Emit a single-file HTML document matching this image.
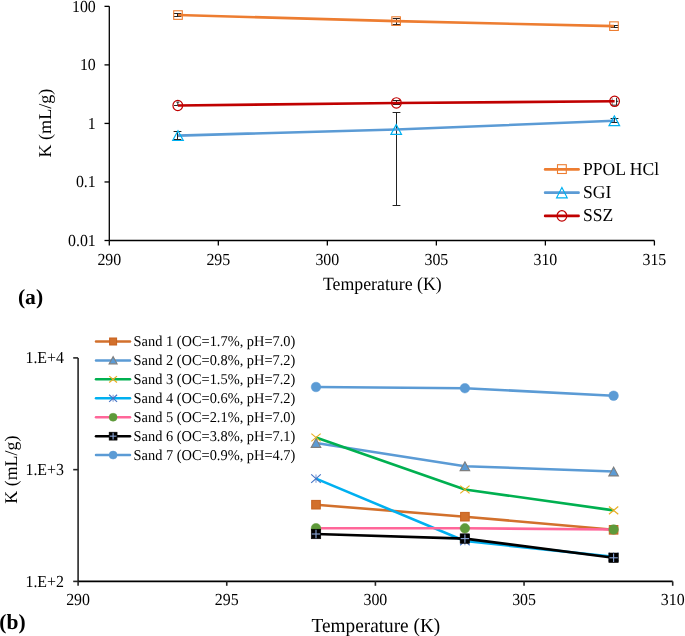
<!DOCTYPE html>
<html><head><meta charset="utf-8"><style>
html,body{margin:0;padding:0;background:#fff;}
body{width:685px;height:636px;overflow:hidden;}
svg{display:block;font-family:"Liberation Serif", serif;will-change:transform;text-rendering:geometricPrecision;}
text{fill:#000;}
</style></head><body>
<svg width="685" height="636" viewBox="0 0 685 636">
<line x1="109.3" y1="6.35" x2="109.3" y2="240.5" stroke="#000" stroke-width="1.3" />
<line x1="109.3" y1="240.5" x2="654.4" y2="240.5" stroke="#000" stroke-width="1.3" />
<line x1="104.5" y1="6.35" x2="109.3" y2="6.35" stroke="#000" stroke-width="1.3" />
<text transform="translate(95.8,11.8) scale(1,1.06)" font-size="15.9" text-anchor="end" font-weight="normal">100</text>
<line x1="104.5" y1="64.8875" x2="109.3" y2="64.8875" stroke="#000" stroke-width="1.3" />
<text transform="translate(95.8,70.3375) scale(1,1.06)" font-size="15.9" text-anchor="end" font-weight="normal">10</text>
<line x1="104.5" y1="123.425" x2="109.3" y2="123.425" stroke="#000" stroke-width="1.3" />
<text transform="translate(95.8,128.875) scale(1,1.06)" font-size="15.9" text-anchor="end" font-weight="normal">1</text>
<line x1="104.5" y1="181.9625" x2="109.3" y2="181.9625" stroke="#000" stroke-width="1.3" />
<text transform="translate(95.8,187.4125) scale(1,1.06)" font-size="15.9" text-anchor="end" font-weight="normal">0.1</text>
<line x1="104.5" y1="240.5" x2="109.3" y2="240.5" stroke="#000" stroke-width="1.3" />
<text transform="translate(95.8,245.95) scale(1,1.06)" font-size="15.9" text-anchor="end" font-weight="normal">0.01</text>
<line x1="109.3" y1="240.5" x2="109.3" y2="245.5" stroke="#000" stroke-width="1.3" />
<text transform="translate(109.3,264.8) scale(1,1.06)" font-size="15.9" text-anchor="middle" font-weight="normal">290</text>
<line x1="218.32" y1="240.5" x2="218.32" y2="245.5" stroke="#000" stroke-width="1.3" />
<text transform="translate(218.32,264.8) scale(1,1.06)" font-size="15.9" text-anchor="middle" font-weight="normal">295</text>
<line x1="327.34000000000003" y1="240.5" x2="327.34000000000003" y2="245.5" stroke="#000" stroke-width="1.3" />
<text transform="translate(327.34000000000003,264.8) scale(1,1.06)" font-size="15.9" text-anchor="middle" font-weight="normal">300</text>
<line x1="436.36000000000007" y1="240.5" x2="436.36000000000007" y2="245.5" stroke="#000" stroke-width="1.3" />
<text transform="translate(436.36000000000007,264.8) scale(1,1.06)" font-size="15.9" text-anchor="middle" font-weight="normal">305</text>
<line x1="545.38" y1="240.5" x2="545.38" y2="245.5" stroke="#000" stroke-width="1.3" />
<text transform="translate(545.38,264.8) scale(1,1.06)" font-size="15.9" text-anchor="middle" font-weight="normal">310</text>
<line x1="654.4" y1="240.5" x2="654.4" y2="245.5" stroke="#000" stroke-width="1.3" />
<text transform="translate(654.4,264.8) scale(1,1.06)" font-size="15.9" text-anchor="middle" font-weight="normal">315</text>
<text transform="translate(382.3,290) scale(1,1.05)" font-size="17.8" text-anchor="middle" font-weight="normal">Temperature (K)</text>
<text x="0" y="0" font-size="18.1" text-anchor="middle" font-weight="normal" transform="translate(50.7,123.1) rotate(-90)">K (mL/g)</text>
<text transform="translate(17.9,303.5) scale(1,1.0)" font-size="21.6" text-anchor="start" font-weight="bold">(a)</text>
<line x1="177.5" y1="13.5" x2="177.5" y2="16.5" stroke="#222" stroke-width="1" />
<line x1="173.6" y1="13.5" x2="181.4" y2="13.5" stroke="#222" stroke-width="1" />
<line x1="173.6" y1="16.5" x2="181.4" y2="16.5" stroke="#222" stroke-width="1" />
<line x1="396.5" y1="18.5" x2="396.5" y2="24.5" stroke="#222" stroke-width="1" />
<line x1="392.6" y1="18.5" x2="400.4" y2="18.5" stroke="#222" stroke-width="1" />
<line x1="392.6" y1="24.5" x2="400.4" y2="24.5" stroke="#222" stroke-width="1" />
<line x1="614.5" y1="25.5" x2="614.5" y2="27.5" stroke="#222" stroke-width="1" />
<line x1="610.6" y1="25.5" x2="618.4" y2="25.5" stroke="#222" stroke-width="1" />
<line x1="610.6" y1="27.5" x2="618.4" y2="27.5" stroke="#222" stroke-width="1" />
<line x1="177.5" y1="131.5" x2="177.5" y2="139.5" stroke="#222" stroke-width="1" />
<line x1="173.6" y1="131.5" x2="181.4" y2="131.5" stroke="#222" stroke-width="1" />
<line x1="173.6" y1="139.5" x2="181.4" y2="139.5" stroke="#222" stroke-width="1" />
<line x1="396.5" y1="112.5" x2="396.5" y2="205.5" stroke="#222" stroke-width="1" />
<line x1="392.6" y1="112.5" x2="400.4" y2="112.5" stroke="#222" stroke-width="1" />
<line x1="392.6" y1="205.5" x2="400.4" y2="205.5" stroke="#222" stroke-width="1" />
<line x1="614.5" y1="118.5" x2="614.5" y2="122.5" stroke="#222" stroke-width="1" />
<line x1="610.6" y1="118.5" x2="618.4" y2="118.5" stroke="#222" stroke-width="1" />
<line x1="610.6" y1="122.5" x2="618.4" y2="122.5" stroke="#222" stroke-width="1" />
<line x1="177.8" y1="102.1" x2="177.8" y2="105.5" stroke="#222" stroke-width="1" />
<line x1="176.3" y1="102.1" x2="179.3" y2="102.1" stroke="#222" stroke-width="1" />
<line x1="173.9" y1="105.5" x2="177.8" y2="105.5" stroke="#222" stroke-width="1" />
<line x1="396.5" y1="100.5" x2="396.5" y2="104.5" stroke="#222" stroke-width="1" />
<line x1="392.6" y1="100.5" x2="400.4" y2="100.5" stroke="#222" stroke-width="1" />
<line x1="392.6" y1="104.5" x2="400.4" y2="104.5" stroke="#222" stroke-width="1" />
<line x1="616.6" y1="97.8" x2="616.6" y2="105.3" stroke="#222" stroke-width="1" />
<line x1="616.6" y1="97.8" x2="616.6" y2="97.8" stroke="#222" stroke-width="1" />
<line x1="616.6" y1="105.3" x2="616.6" y2="105.3" stroke="#222" stroke-width="1" />
<line x1="612.2" y1="98.3" x2="612.2" y2="105" stroke="#777" stroke-width="1" />
<line x1="611" y1="105.2" x2="617" y2="105.2" stroke="#222" stroke-width="1" />
<line x1="616" y1="101.3" x2="618.3" y2="101.3" stroke="#222" stroke-width="1" />
<polyline points="178,15.05 396.1,21.1 614,26.15" fill="none" stroke="#ED7D31" stroke-width="2.6" stroke-linejoin="round" stroke-linecap="butt"/>
<polyline points="178,135.6 396.2,129.5 614.3,120.8" fill="none" stroke="#5B9BD5" stroke-width="2.6" stroke-linejoin="round" stroke-linecap="butt"/>
<polyline points="177.8,105.5 396.4,102.95 614.6,101.3" fill="none" stroke="#C00000" stroke-width="2.6" stroke-linejoin="round" stroke-linecap="butt"/>
<rect x="173.7" y="10.75" width="8.6" height="8.6" fill="none" stroke="#ED7D31" stroke-width="1.1"/>
<rect x="391.8" y="16.8" width="8.6" height="8.6" fill="none" stroke="#ED7D31" stroke-width="1.1"/>
<rect x="609.7" y="21.849999999999998" width="8.6" height="8.6" fill="none" stroke="#ED7D31" stroke-width="1.1"/>
<polygon points="178,130.7 183.3,140.5 172.7,140.5" fill="none" stroke="#00B0F0" stroke-width="1.2" stroke-linejoin="miter"/>
<polygon points="396.2,124.6 401.5,134.4 390.9,134.4" fill="none" stroke="#00B0F0" stroke-width="1.2" stroke-linejoin="miter"/>
<polygon points="614.3,115.89999999999999 619.5999999999999,125.7 609.0,125.7" fill="none" stroke="#00B0F0" stroke-width="1.2" stroke-linejoin="miter"/>
<ellipse cx="177.8" cy="105.5" rx="4.85" ry="5.2" fill="none" stroke="#C00000" stroke-width="1.2"/>
<ellipse cx="396.4" cy="102.95" rx="4.85" ry="5.2" fill="none" stroke="#C00000" stroke-width="1.2"/>
<ellipse cx="614.6" cy="101.3" rx="4.85" ry="5.2" fill="none" stroke="#C00000" stroke-width="1.2"/>
<line x1="545.1" y1="169.4" x2="578.6" y2="169.4" stroke="#ED7D31" stroke-width="2.6" stroke-linecap="round"/>
<rect x="557.5" y="164.7" width="8.8" height="8.8" fill="none" stroke="#ED7D31" stroke-width="1.1"/>
<text transform="translate(583.0,174.9) scale(1,1.04)" font-size="17.6" text-anchor="start" font-weight="normal">PPOL HCl</text>
<line x1="545.1" y1="192.65" x2="578.6" y2="192.65" stroke="#5B9BD5" stroke-width="2.6" stroke-linecap="round"/>
<polygon points="561.9,187.45000000000002 567.1999999999999,197.85 556.6,197.85" fill="none" stroke="#00B0F0" stroke-width="1.2" stroke-linejoin="miter"/>
<text transform="translate(583.0,198.15) scale(1,1.04)" font-size="17.6" text-anchor="start" font-weight="normal">SGI</text>
<line x1="545.1" y1="215.9" x2="578.6" y2="215.9" stroke="#C00000" stroke-width="2.6" stroke-linecap="round"/>
<ellipse cx="561.9" cy="215.9" rx="4.85" ry="5.2" fill="none" stroke="#C00000" stroke-width="1.2"/>
<text transform="translate(583.0,221.4) scale(1,1.04)" font-size="17.6" text-anchor="start" font-weight="normal">SSZ</text>
<line x1="78.1" y1="357.9" x2="78.1" y2="581.4" stroke="#262626" stroke-width="1.6" />
<line x1="78.1" y1="581.4" x2="672.7" y2="581.4" stroke="#000" stroke-width="1.6" />
<line x1="73.2" y1="357.9" x2="78.1" y2="357.9" stroke="#262626" stroke-width="1.6" />
<text transform="translate(64.0,363.34999999999997) scale(1,1.06)" font-size="15.9" text-anchor="end" font-weight="normal">1.E+4</text>
<line x1="73.2" y1="469.65" x2="78.1" y2="469.65" stroke="#262626" stroke-width="1.6" />
<text transform="translate(64.0,475.09999999999997) scale(1,1.06)" font-size="15.9" text-anchor="end" font-weight="normal">1.E+3</text>
<line x1="73.2" y1="581.4" x2="78.1" y2="581.4" stroke="#262626" stroke-width="1.6" />
<text transform="translate(64.0,586.85) scale(1,1.06)" font-size="15.9" text-anchor="end" font-weight="normal">1.E+2</text>
<line x1="78.1" y1="581.4" x2="78.1" y2="585.8" stroke="#262626" stroke-width="1.6" />
<text transform="translate(78.1,605.1) scale(1,1.06)" font-size="15.9" text-anchor="middle" font-weight="normal">290</text>
<line x1="226.75" y1="581.4" x2="226.75" y2="585.8" stroke="#262626" stroke-width="1.6" />
<text transform="translate(226.75,605.1) scale(1,1.06)" font-size="15.9" text-anchor="middle" font-weight="normal">295</text>
<line x1="375.4" y1="581.4" x2="375.4" y2="585.8" stroke="#262626" stroke-width="1.6" />
<text transform="translate(375.4,605.1) scale(1,1.06)" font-size="15.9" text-anchor="middle" font-weight="normal">300</text>
<line x1="524.0500000000001" y1="581.4" x2="524.0500000000001" y2="585.8" stroke="#262626" stroke-width="1.6" />
<text transform="translate(524.0500000000001,605.1) scale(1,1.06)" font-size="15.9" text-anchor="middle" font-weight="normal">305</text>
<line x1="672.7" y1="581.4" x2="672.7" y2="585.8" stroke="#262626" stroke-width="1.6" />
<text transform="translate(672.7,605.1) scale(1,1.06)" font-size="15.9" text-anchor="middle" font-weight="normal">310</text>
<text transform="translate(375.9,631.9) scale(1,1.04)" font-size="19.3" text-anchor="middle" font-weight="normal">Temperature (K)</text>
<text x="0" y="0" font-size="17.9" text-anchor="middle" font-weight="normal" transform="translate(16.9,469.65) rotate(-90)">K (mL/g)</text>
<text transform="translate(-0.7,628.7) scale(1,1.0)" font-size="21.5" text-anchor="start" font-weight="bold">(b)</text>
<polyline points="316,504.7 464.9,516.7 613.6,529.8" fill="none" stroke="#D2702C" stroke-width="2.6" stroke-linejoin="round" stroke-linecap="butt"/>
<rect x="311.7" y="500.4" width="8.6" height="8.6" fill="#D2702C" stroke="#C8621F" stroke-width="1"/>
<rect x="460.59999999999997" y="512.4000000000001" width="8.6" height="8.6" fill="#D2702C" stroke="#C8621F" stroke-width="1"/>
<rect x="609.3000000000001" y="525.5" width="8.6" height="8.6" fill="#D2702C" stroke="#C8621F" stroke-width="1"/>
<polyline points="316,443 464.9,466.2 613.6,471.5" fill="none" stroke="#5B9BD5" stroke-width="2.6" stroke-linejoin="round" stroke-linecap="butt"/>
<polygon points="316,438.584 320.8,447.416 311.2,447.416" fill="#5B9BD5" stroke="#7F7F7F" stroke-width="1.1" stroke-linejoin="miter"/>
<polygon points="464.9,461.784 469.7,470.616 460.09999999999997,470.616" fill="#5B9BD5" stroke="#7F7F7F" stroke-width="1.1" stroke-linejoin="miter"/>
<polygon points="613.6,467.084 618.4,475.916 608.8000000000001,475.916" fill="#5B9BD5" stroke="#7F7F7F" stroke-width="1.1" stroke-linejoin="miter"/>
<polyline points="316,437.5 464.9,489.5 613.6,510.4" fill="none" stroke="#00B050" stroke-width="2.6" stroke-linejoin="round" stroke-linecap="butt"/>
<line x1="311.344" y1="433.66" x2="320.656" y2="441.34" stroke="#EAAE22" stroke-width="1.2" />
<line x1="311.344" y1="441.34" x2="320.656" y2="433.66" stroke="#EAAE22" stroke-width="1.2" />
<line x1="460.24399999999997" y1="485.66" x2="469.556" y2="493.34" stroke="#EAAE22" stroke-width="1.2" />
<line x1="460.24399999999997" y1="493.34" x2="469.556" y2="485.66" stroke="#EAAE22" stroke-width="1.2" />
<line x1="608.9440000000001" y1="506.56" x2="618.256" y2="514.24" stroke="#EAAE22" stroke-width="1.2" />
<line x1="608.9440000000001" y1="514.24" x2="618.256" y2="506.56" stroke="#EAAE22" stroke-width="1.2" />
<polyline points="316,478.6 464.9,541 613.6,556.8" fill="none" stroke="#00B0F0" stroke-width="2.6" stroke-linejoin="round" stroke-linecap="butt"/>
<line x1="316" y1="474.37600000000003" x2="316" y2="482.824" stroke="#7F9FDA" stroke-width="1.1" />
<line x1="311.2" y1="474.37600000000003" x2="320.8" y2="482.824" stroke="#4472C4" stroke-width="1.1" />
<line x1="311.2" y1="482.824" x2="320.8" y2="474.37600000000003" stroke="#4472C4" stroke-width="1.1" />
<line x1="464.9" y1="536.776" x2="464.9" y2="545.224" stroke="#7F9FDA" stroke-width="1.1" />
<line x1="460.09999999999997" y1="536.776" x2="469.7" y2="545.224" stroke="#4472C4" stroke-width="1.1" />
<line x1="460.09999999999997" y1="545.224" x2="469.7" y2="536.776" stroke="#4472C4" stroke-width="1.1" />
<line x1="613.6" y1="552.5759999999999" x2="613.6" y2="561.024" stroke="#7F9FDA" stroke-width="1.1" />
<line x1="608.8000000000001" y1="552.5759999999999" x2="618.4" y2="561.024" stroke="#4472C4" stroke-width="1.1" />
<line x1="608.8000000000001" y1="561.024" x2="618.4" y2="552.5759999999999" stroke="#4472C4" stroke-width="1.1" />
<polyline points="316,528.2 464.9,528.3 613.6,529.5" fill="none" stroke="#FF6699" stroke-width="2.6" stroke-linejoin="round" stroke-linecap="butt"/>
<circle cx="316" cy="528.2" r="4.8" fill="#5E9A3A" stroke="#5E9A3A" stroke-width="0.5"/>
<circle cx="464.9" cy="528.3" r="4.8" fill="#5E9A3A" stroke="#5E9A3A" stroke-width="0.5"/>
<circle cx="613.6" cy="529.5" r="4.8" fill="#5E9A3A" stroke="#5E9A3A" stroke-width="0.5"/>
<polyline points="316,534 464.9,538.6 613.6,557.8" fill="none" stroke="#000" stroke-width="2.6" stroke-linejoin="round" stroke-linecap="butt"/>
<rect x="311.2" y="529.2" width="9.6" height="9.6" fill="#000" stroke="#000" stroke-width="0.5"/>
<line x1="311.8" y1="534" x2="320.2" y2="534" stroke="#8AA6D8" stroke-width="1.1" />
<line x1="316" y1="529.8000000000001" x2="316" y2="538.1999999999999" stroke="#8AA6D8" stroke-width="1.1" />
<rect x="460.09999999999997" y="533.8000000000001" width="9.6" height="9.6" fill="#000" stroke="#000" stroke-width="0.5"/>
<line x1="460.7" y1="538.6" x2="469.09999999999997" y2="538.6" stroke="#8AA6D8" stroke-width="1.1" />
<line x1="464.9" y1="534.4000000000001" x2="464.9" y2="542.8" stroke="#8AA6D8" stroke-width="1.1" />
<rect x="608.8000000000001" y="553.0" width="9.6" height="9.6" fill="#000" stroke="#000" stroke-width="0.5"/>
<line x1="609.4000000000001" y1="557.8" x2="617.8" y2="557.8" stroke="#8AA6D8" stroke-width="1.1" />
<line x1="613.6" y1="553.6" x2="613.6" y2="561.9999999999999" stroke="#8AA6D8" stroke-width="1.1" />
<polyline points="316,387 464.9,388.2 613.6,395.75" fill="none" stroke="#5B9BD5" stroke-width="2.6" stroke-linejoin="round" stroke-linecap="butt"/>
<circle cx="316" cy="387" r="4.8" fill="#5B9BD5" stroke="#5B9BD5" stroke-width="0.5"/>
<circle cx="464.9" cy="388.2" r="4.8" fill="#5B9BD5" stroke="#5B9BD5" stroke-width="0.5"/>
<circle cx="613.6" cy="395.75" r="4.8" fill="#5B9BD5" stroke="#5B9BD5" stroke-width="0.5"/>
<line x1="96" y1="341.5" x2="130" y2="341.5" stroke="#D2702C" stroke-width="2.5" stroke-linecap="round"/>
<rect x="109.6" y="338.0" width="7" height="7" fill="#D2702C" stroke="#C8621F" stroke-width="1"/>
<text transform="translate(133.6,345.95) scale(1,1.04)" font-size="14.4" text-anchor="start" font-weight="normal">Sand 1 (OC=1.7%, pH=7.0)</text>
<line x1="96" y1="360.43" x2="130" y2="360.43" stroke="#5B9BD5" stroke-width="2.5" stroke-linecap="round"/>
<polygon points="113.1,356.63 117.1,363.83000000000004 109.1,363.83000000000004" fill="#5B9BD5" stroke="#7F7F7F" stroke-width="1.1" stroke-linejoin="miter"/>
<text transform="translate(133.6,364.88) scale(1,1.04)" font-size="14.4" text-anchor="start" font-weight="normal">Sand 2 (OC=0.8%, pH=7.2)</text>
<line x1="96" y1="379.36" x2="130" y2="379.36" stroke="#00B050" stroke-width="2.5" stroke-linecap="round"/>
<line x1="109.22" y1="376.16" x2="116.97999999999999" y2="382.56" stroke="#EAAE22" stroke-width="1.2" />
<line x1="109.22" y1="382.56" x2="116.97999999999999" y2="376.16" stroke="#EAAE22" stroke-width="1.2" />
<text transform="translate(133.6,383.81) scale(1,1.04)" font-size="14.4" text-anchor="start" font-weight="normal">Sand 3 (OC=1.5%, pH=7.2)</text>
<line x1="96" y1="398.29" x2="130" y2="398.29" stroke="#00B0F0" stroke-width="2.5" stroke-linecap="round"/>
<line x1="113.1" y1="394.77000000000004" x2="113.1" y2="401.81" stroke="#7F9FDA" stroke-width="1.1" />
<line x1="109.1" y1="394.77000000000004" x2="117.1" y2="401.81" stroke="#4472C4" stroke-width="1.1" />
<line x1="109.1" y1="401.81" x2="117.1" y2="394.77000000000004" stroke="#4472C4" stroke-width="1.1" />
<text transform="translate(133.6,402.74) scale(1,1.04)" font-size="14.4" text-anchor="start" font-weight="normal">Sand 4 (OC=0.6%, pH=7.2)</text>
<line x1="96" y1="417.22" x2="130" y2="417.22" stroke="#FF6699" stroke-width="2.5" stroke-linecap="round"/>
<circle cx="113.1" cy="417.22" r="4.0" fill="#5E9A3A" stroke="#5E9A3A" stroke-width="0.5"/>
<text transform="translate(133.6,421.67) scale(1,1.04)" font-size="14.4" text-anchor="start" font-weight="normal">Sand 5 (OC=2.1%, pH=7.0)</text>
<line x1="96" y1="436.15" x2="130" y2="436.15" stroke="#000" stroke-width="2.5" stroke-linecap="round"/>
<rect x="109.1" y="432.15" width="8" height="8" fill="#000" stroke="#000" stroke-width="0.5"/>
<line x1="109.69999999999999" y1="436.15" x2="116.5" y2="436.15" stroke="#8AA6D8" stroke-width="1.1" />
<line x1="113.1" y1="432.75" x2="113.1" y2="439.54999999999995" stroke="#8AA6D8" stroke-width="1.1" />
<text transform="translate(133.6,440.59999999999997) scale(1,1.04)" font-size="14.4" text-anchor="start" font-weight="normal">Sand 6 (OC=3.8%, pH=7.1)</text>
<line x1="96" y1="455.08" x2="130" y2="455.08" stroke="#5B9BD5" stroke-width="2.5" stroke-linecap="round"/>
<circle cx="113.1" cy="455.08" r="4.0" fill="#5B9BD5" stroke="#5B9BD5" stroke-width="0.5"/>
<text transform="translate(133.6,459.53) scale(1,1.04)" font-size="14.4" text-anchor="start" font-weight="normal">Sand 7 (OC=0.9%, pH=4.7)</text>
</svg>
</body></html>
